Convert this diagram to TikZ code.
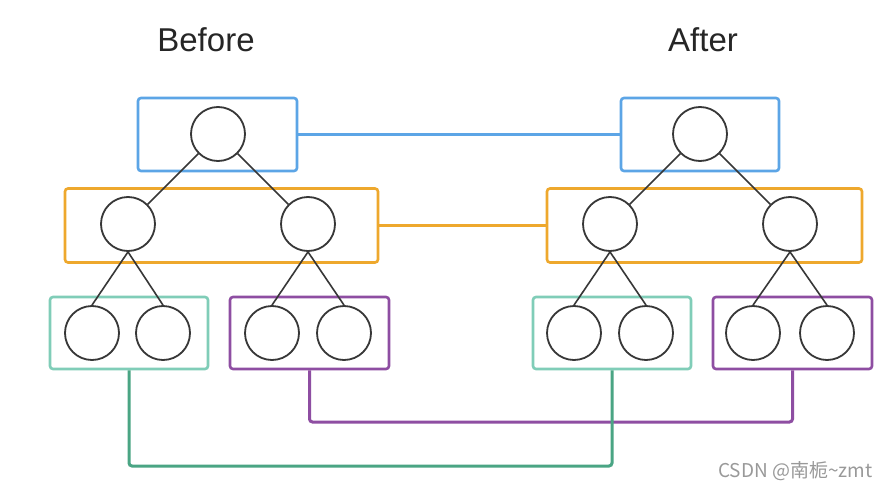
\documentclass[tikz,border=0pt]{standalone}
\usepackage{fontspec}
\setmainfont{Liberation Sans}
\newfontfamily\cjk{Noto Sans CJK SC}
\definecolor{cblue}{RGB}{92,165,230}
\definecolor{corange}{RGB}{238,168,45}
\definecolor{cteal}{RGB}{128,205,184}
\definecolor{ctealline}{RGB}{74,165,132}
\definecolor{cpurple}{RGB}{142,78,162}
\definecolor{ccircle}{RGB}{55,55,55}
\begin{document}
\begin{tikzpicture}[x=1pt,y=-1pt,
  tnode/.style={circle,draw=ccircle,line width=1.8pt,minimum size=54pt,inner sep=0pt},
  grp/.style={rectangle,rounded corners=3pt,line width=2.6pt,inner sep=0pt},
  edgeline/.style={draw=ccircle,line width=1.6pt},
  link/.style={line width=3pt,rounded corners=3pt},
  title/.style={font=\fontsize{33}{36}\selectfont,text=black!85}
]
\useasboundingbox[fill=white] (0,0) rectangle (894,487);

% group boxes
\node[grp,draw=cblue,minimum width=159pt,minimum height=73pt] (bbL) at (217.5,134.5) {};
\node[grp,draw=cblue,minimum width=158pt,minimum height=73pt] (bbR) at (700,134.5) {};
\node[grp,draw=corange,minimum width=313pt,minimum height=74pt] (obL) at (221.5,225.5) {};
\node[grp,draw=corange,minimum width=315pt,minimum height=74pt] (obR) at (704.5,225.5) {};
\node[grp,draw=cteal,minimum width=158pt,minimum height=72pt] (tbL) at (129,333) {};
\node[grp,draw=cteal,minimum width=158pt,minimum height=72pt] (tbR) at (612,333) {};
\node[grp,draw=cpurple,minimum width=159pt,minimum height=72pt] (pbL) at (309.5,333) {};
\node[grp,draw=cpurple,minimum width=159pt,minimum height=72pt] (pbR) at (792.5,333) {};

% tree nodes (before)
\node[tnode] (rL) at (218,134) {};
\node[tnode] (aL) at (128,224) {};
\node[tnode] (bL) at (308,224) {};
\node[tnode] (a1L) at (92,333) {};
\node[tnode] (a2L) at (163,333) {};
\node[tnode] (b1L) at (272,333) {};
\node[tnode] (b2L) at (344,333) {};
% tree nodes (after)
\node[tnode] (rR) at (700,134) {};
\node[tnode] (aR) at (610,224) {};
\node[tnode] (bR) at (790,224) {};
\node[tnode] (a1R) at (574,333) {};
\node[tnode] (a2R) at (646,333) {};
\node[tnode] (b1R) at (753,333) {};
\node[tnode] (b2R) at (827,333) {};

% tree edges
\foreach \s in {L,R}{
  \draw[edgeline] (r\s) -- (a\s);
  \draw[edgeline] (r\s) -- (b\s);
  \draw[edgeline] (a\s.south) -- (a1\s.north);
  \draw[edgeline] (a\s.south) -- (a2\s.north);
  \draw[edgeline] (b\s.south) -- (b1\s.north);
  \draw[edgeline] (b\s.south) -- (b2\s.north);
}

% links between groups
\draw[link,draw=cblue] (bbL.east) -- (bbR.west);
\draw[link,draw=corange] (obL.east) -- (obR.west);
\coordinate (tealY) at (0,466);
\coordinate (purpY) at (0,422);
\draw[link,draw=cpurple] (pbL.south) -- (pbL.south |- purpY) -| (pbR.south);
\draw[link,draw=ctealline] (tbL.south) -- (tbL.south |- tealY) -| (tbR.south);

% titles
\node[title,anchor=base] (tB) at (206,52) {Before};
\node[title,anchor=base] (tA) at (703,52) {After};

% watermark
\node[anchor=base east,text=black!40,font=\cjk\fontsize{19}{22}\selectfont] (wm) at (876,477) {CSDN @南栀\textasciitilde zmt};
\end{tikzpicture}
\end{document}
